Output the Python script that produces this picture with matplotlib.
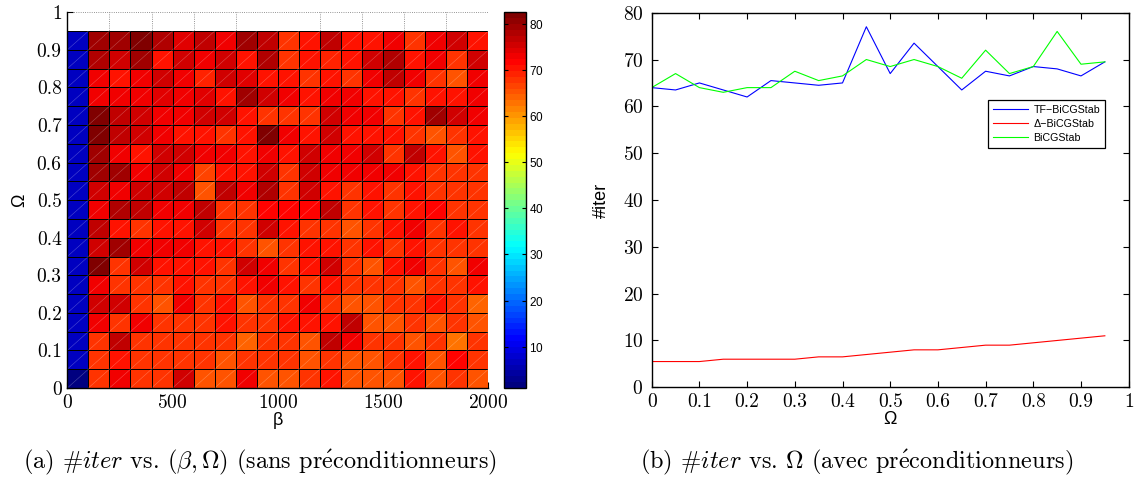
import numpy as np
import matplotlib
matplotlib.use("Agg")
import matplotlib.pyplot as plt
from matplotlib.colors import LinearSegmentedColormap
from matplotlib.collections import LineCollection
from matplotlib.ticker import MultipleLocator

plt.rcParams['font.family'] = ['Liberation Sans', 'DejaVu Sans']
plt.rcParams['mathtext.fontset'] = 'cm'
plt.rcParams['axes.formatter.use_mathtext'] = True

# ---- data: (a) #iter over (beta, Omega), rows from Omega=0 upward ----
beta_edges = np.arange(0, 2001, 100)
omega_edges = np.arange(0, 0.951, 0.05)
iters = [
    [2, 68, 72.5, 68, 68, 75, 66, 66, 72.5, 66, 66, 68, 70.5, 66, 66, 66, 70.5, 66, 68, 66],
    [7, 68, 70.5, 68, 68, 68, 68, 66, 68, 68, 68, 66, 68, 66, 66, 68, 70.5, 66, 72, 68],
    [7, 68, 77, 68, 68, 68, 68, 68, 63.5, 68, 68, 66, 77, 72.5, 68, 68, 66, 68, 63, 68],
    [7, 72.5, 68, 72.5, 68, 68, 68, 70.5, 68, 68, 70.5, 70.5, 70.5, 77, 66, 66, 68, 66, 68, 66],
    [7, 76, 76, 68, 66, 72.5, 68, 70.5, 65.5, 68, 68, 72.5, 68, 66, 66, 68, 68, 70.5, 68, 64],
    [7, 72.5, 68, 68, 68, 70.5, 68, 68, 70.5, 72.5, 70.5, 68, 70.5, 68, 68, 68, 65.5, 68, 68, 70.5],
    [7, 82, 68, 76, 70.5, 70.5, 70.5, 68, 75, 72.5, 68, 70.5, 75, 68, 66, 70.5, 73, 68, 66, 72.5],
    [7, 75, 80, 72.5, 72.5, 72.5, 70.5, 70.5, 68, 65.5, 68, 70.5, 70.5, 68, 70.5, 68, 70.5, 68, 68, 68],
    [7, 77, 70.5, 68, 70.5, 70.5, 76, 68, 68, 75, 70.5, 68, 68, 66, 68, 70.5, 73, 68, 70.5, 68],
    [7, 72.5, 78, 77, 72.5, 72.5, 77, 68, 68, 71.5, 72, 72, 77, 68, 70.5, 68, 70.5, 72, 68, 68],
    [7, 76, 72.5, 76, 75, 77, 66, 77, 72.5, 78, 68, 76, 70.5, 68, 70.5, 68, 70.5, 68, 68, 68],
    [7, 80, 80, 72.5, 75, 72.5, 67, 70.5, 70.5, 75, 68, 76, 72.5, 72.5, 72.5, 72.5, 70.5, 68, 68, 68],
    [7, 79, 72.5, 70.5, 76, 75, 72.5, 72.5, 70.5, 72.5, 70.5, 76, 72.5, 72.5, 76, 68, 77, 70.5, 66, 70.5],
    [7, 81.5, 77, 76, 73.5, 70, 70.5, 68, 70.5, 82, 72.5, 70.5, 76, 70.5, 70.5, 70.5, 68, 66, 68, 70.5],
    [7, 82, 77, 76, 72.5, 73.5, 75, 75, 70.5, 68.5, 68, 68, 76, 72.5, 72.5, 68, 70.5, 80, 76, 72.5],
    [7, 72.5, 72.5, 72.5, 74, 72.5, 74, 70.5, 79, 75, 72.5, 70.5, 72.5, 72.5, 70.5, 70.5, 68, 70.5, 70.5, 72.5],
    [7, 73.5, 70.5, 72.5, 76, 72.5, 69, 76, 74, 70.5, 70.5, 68, 70.5, 68, 72.5, 77, 72.5, 68, 66, 72.5],
    [7, 78, 76, 80, 71, 76, 72.5, 75, 70.5, 78, 68, 70.5, 69.5, 70.5, 76, 78, 70.5, 72.5, 68, 76],
    [7, 79, 80, 82, 78, 74, 77, 72.5, 80, 77, 68, 70.5, 77, 70.5, 70.5, 72.5, 68, 72.5, 75, 70.5],
]

# ---- data: (b) #iter vs Omega ----
omega = np.arange(0, 0.951, 0.05)
tf_bicgstab = [64, 63.5, 65, 63.5, 62, 65.5, 65, 64.5, 65, 77,
               67, 73.5, 68.5, 63.5, 67.5, 66.5, 68.5, 68, 66.5, 69.5]
delta_bicgstab = [5.5, 5.5, 5.5, 6, 6, 6, 6, 6.5, 6.5, 7,
                  7.5, 8, 8, 8.5, 9, 9, 9.5, 10, 10.5, 11]
bicgstab = [64, 67, 64, 63, 64, 64, 67.5, 65.5, 66.5, 70,
            68.5, 70, 68.5, 66, 72, 67, 68.5, 76, 69, 69.5]
tick_txt = ['0', '0.1', '0.2', '0.3', '0.4', '0.5', '0.6', '0.7', '0.8', '0.9', '1']

# matlab style jet, 64 levels
jet_m = LinearSegmentedColormap('jet_m', {
    'red': [(0, 0, 0), (3/8, 0, 0), (5/8, 1, 1), (7/8, 1, 1), (1, 0.5, 0.5)],
    'green': [(0, 0, 0), (1/8, 0, 0), (3/8, 1, 1), (5/8, 1, 1), (7/8, 0, 0), (1, 0, 0)],
    'blue': [(0, 0.5, 0.5), (1/8, 1, 1), (3/8, 1, 1), (5/8, 0, 0), (1, 0, 0)],
}, N=64)

W, H = 1135, 479
fig = plt.figure(figsize=(W / 100, H / 100), dpi=100)

def px_axes(x0, y0, x1, y1):
    return fig.add_axes([x0 / W, 1 - y1 / H, (x1 - x0) / W, (y1 - y0) / H])

# ---------------- left: pcolor ----------------
ax1 = px_axes(67.3, 12.3, 488.3, 388)
mesh = ax1.pcolormesh(beta_edges, omega_edges, np.array(iters), cmap=jet_m,
                      vmin=1, vmax=82.6, edgecolors='k', linewidth=0.55)
# faint diagonal seams inside each cell
bx, oy = np.meshgrid(beta_edges, omega_edges)
segs = [[(bx[j, i], oy[j, i]), (bx[j + 1, i + 1], oy[j + 1, i + 1])]
        for j in range(len(omega_edges) - 1) for i in range(len(beta_edges) - 1)]
ax1.add_collection(LineCollection(segs, colors='white', linewidths=0.4, alpha=0.3))
ax1.set_xlim(0, 2000)
ax1.set_ylim(0, 1)
ax1.set_xticks(np.arange(0, 2001, 500))
ax1.set_yticks(np.arange(0, 1.01, 0.1))
ax1.set_yticklabels(tick_txt)
ax1.xaxis.set_minor_locator(MultipleLocator(200))
ax1.set_axisbelow(True)
ax1.grid(axis='y', which='major', linestyle=':', color='0.45', linewidth=0.6)
ax1.grid(axis='x', which='minor', linestyle=':', color='0.45', linewidth=0.6)
ax1.spines['top'].set_visible(False)
ax1.spines['right'].set_visible(False)
for s in ('left', 'bottom'):
    ax1.spines[s].set_linewidth(1.0)
ax1.tick_params(which='both', direction='in', length=4, width=0.8,
                labelsize=14, labelfontfamily='cmr10')
ax1.tick_params(which='minor', length=0)
ax1.tick_params(axis='y', pad=4)
ax1.tick_params(axis='x', pad=4)
ax1.set_xlabel('β', fontsize=13, labelpad=0)
ax1.set_ylabel('Ω', fontsize=13, labelpad=6)

cax = px_axes(504.3, 12.3, 526, 388)
cb = fig.colorbar(mesh, cax=cax)
cb.set_ticks(np.arange(10, 81, 10))
cax.tick_params(direction='in', left=True, right=True, length=3, width=0.8,
                labelsize=8.5, pad=2)
cb.outline.set_linewidth(1.0)

# ---------------- right: lines ----------------
ax2 = px_axes(651.7, 12.7, 1128.7, 387.3)
ax2.plot(omega, tf_bicgstab, color='#0000ff', lw=0.8, label='TF−BiCGStab')
ax2.plot(omega, delta_bicgstab, color='#ff0000', lw=0.8, label='Δ−BiCGStab')
ax2.plot(omega, bicgstab, color='#00ff00', lw=0.8, label='BiCGStab')
ax2.set_xlim(0, 1)
ax2.set_ylim(0, 80)
ax2.set_xticks(np.arange(0, 1.01, 0.1))
ax2.set_xticklabels(tick_txt)
ax2.set_yticks(np.arange(0, 81, 10))
for s in ax2.spines.values():
    s.set_linewidth(1.0)
ax2.tick_params(direction='in', length=4, width=0.8, top=True, right=True,
                labelsize=14, labelfontfamily='cmr10')
ax2.tick_params(axis='y', pad=6)
ax2.tick_params(axis='x', pad=4)
ax2.set_xlabel('Ω', fontsize=13, labelpad=0)
ax2.set_ylabel('#iter', fontsize=13, labelpad=9)
leg = ax2.legend(loc='upper right', bbox_to_anchor=(0.95, 0.767), borderaxespad=0,
                 fontsize=7.7, handlelength=3.3, fancybox=False, framealpha=1,
                 edgecolor='k', borderpad=0.45, labelspacing=0.38, handletextpad=0.5)
leg.get_frame().set_linewidth(0.9)

# ---------------- captions ----------------
fig.text(260 / W, 1 - 462 / H,
         r'(a) #$iter$ vs. $(\beta, \Omega)$ (sans pr$\mathrm{\acute{e}}$conditionneurs)',
         family='cmr10', fontsize=17.5, ha='center', va='center')
fig.text(857 / W, 1 - 462 / H,
         r'(b) #$iter$ vs. $\Omega$ (avec pr$\mathrm{\acute{e}}$conditionneurs)',
         family='cmr10', fontsize=17.5, ha='center', va='center')

fig.savefig('out.png', dpi=100)
